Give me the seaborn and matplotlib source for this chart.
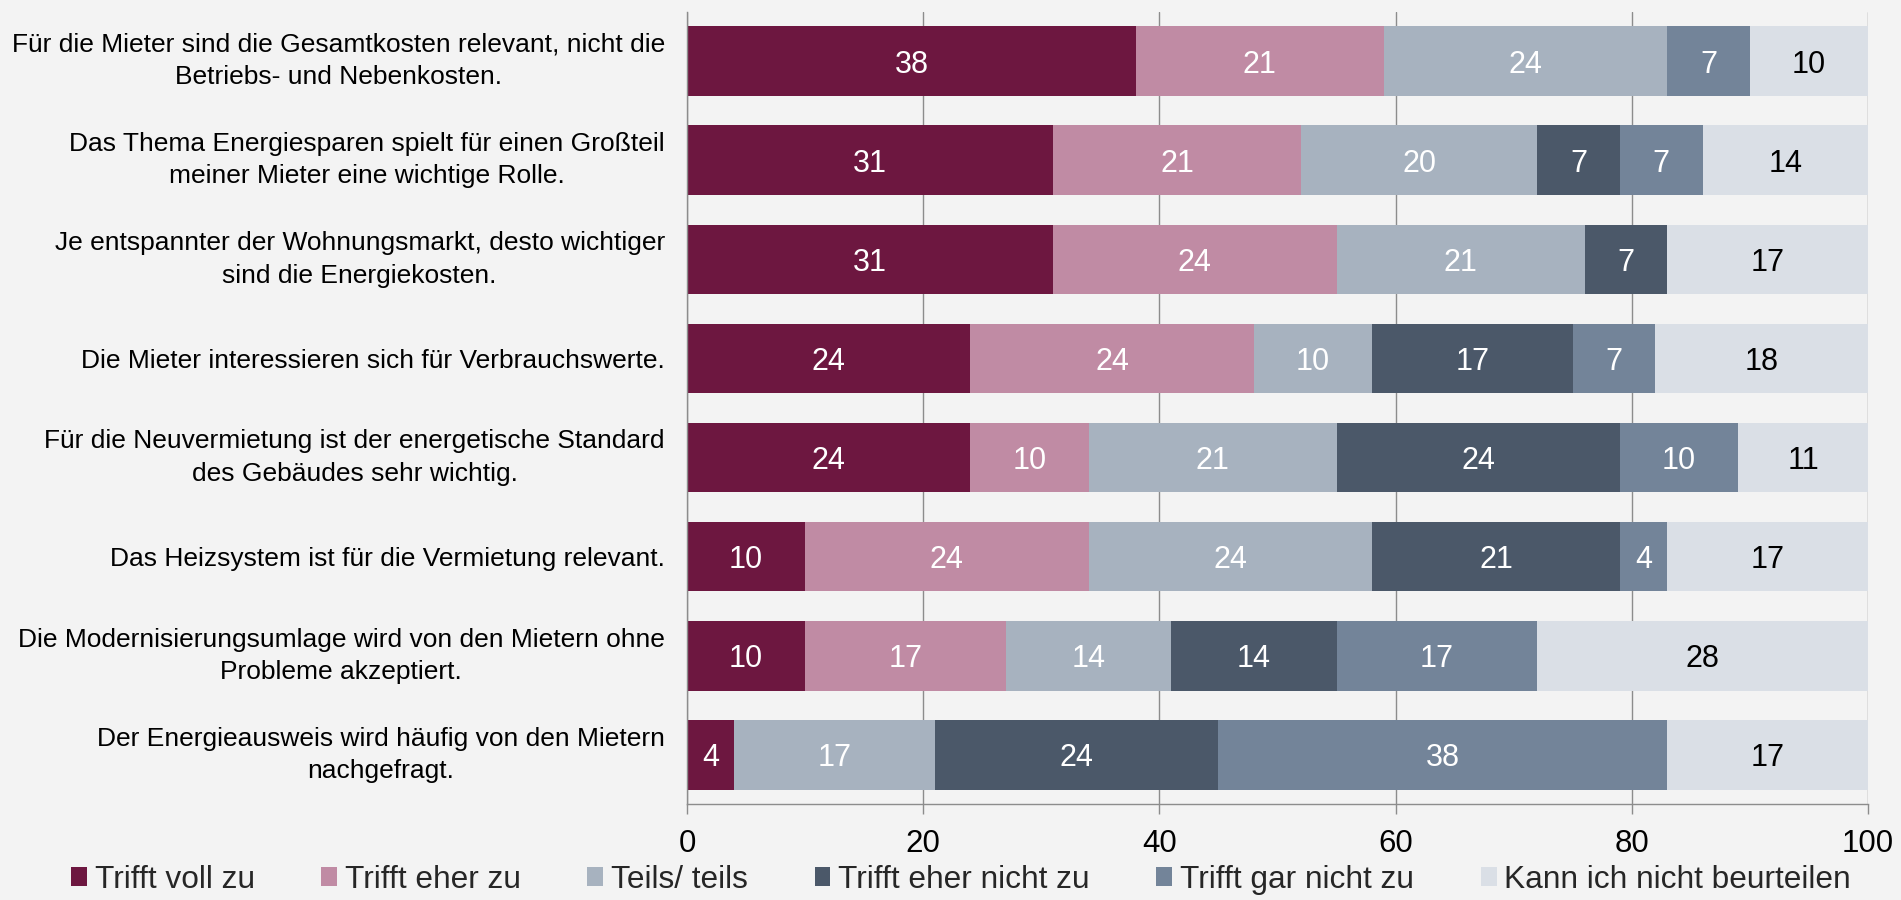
import numpy as np
import matplotlib
matplotlib.use("Agg")
import matplotlib.pyplot as plt
from matplotlib.patches import Patch
import seaborn as sns

statements = [
    "Für die Mieter sind die Gesamtkosten relevant, nicht die\nBetriebs- und Nebenkosten.",
    "Das Thema Energiesparen spielt für einen Großteil\nmeiner Mieter eine wichtige Rolle.",
    "Je entspannter der Wohnungsmarkt, desto wichtiger\nsind die Energiekosten.",
    "Die Mieter interessieren sich für Verbrauchswerte.",
    "Für die Neuvermietung ist der energetische Standard\ndes Gebäudes sehr wichtig.",
    "Das Heizsystem ist für die Vermietung relevant.",
    "Die Modernisierungsumlage wird von den Mietern ohne\nProbleme akzeptiert.",
    "Der Energieausweis wird häufig von den Mietern\nnachgefragt.",
]
categories = ["Trifft voll zu", "Trifft eher zu", "Teils/ teils",
              "Trifft eher nicht zu", "Trifft gar nicht zu", "Kann ich nicht beurteilen"]
trifft_voll = [38, 31, 31, 24, 24, 10, 10, 4]
trifft_eher = [21, 21, 24, 24, 10, 24, 17, 0]
teils_teils = [24, 20, 21, 10, 21, 24, 14, 17]
eher_nicht = [0, 7, 7, 17, 24, 21, 14, 24]
gar_nicht = [7, 7, 0, 7, 10, 4, 17, 38]
kann_nicht = [10, 14, 17, 18, 11, 17, 28, 17]
x_ticks = [0, 20, 40, 60, 80, 100]

colors = ["#6D1740", "#C08BA4", "#A7B2BF", "#4B5869", "#738499", "#DADFE6"]
label_colors = ["white", "white", "white", "white", "white", "black"]
bg = "#F3F3F3"
grid_c = "#8C8C8C"

sns.set_theme(style="white")
plt.rcParams["font.family"] = ["Liberation Sans", "DejaVu Sans"]

W, H = 1901, 900
fig = plt.figure(figsize=(W / 100, H / 100), dpi=100, facecolor=bg)
ax = fig.add_axes([687 / W, 1 - 804 / H, (1868 - 687) / W, (804 - 12) / H])
ax.set_facecolor(bg)

vals = np.array([trifft_voll, trifft_eher, teils_teils, eher_nicht, gar_nicht, kann_nicht])
cum = np.cumsum(vals, axis=0)

for i in range(len(categories) - 1, -1, -1):
    sns.barplot(x=cum[i], y=statements, orient="h", color=colors[i], saturation=1,
                width=0.7, linewidth=0, errorbar=None, ax=ax, zorder=2)

for i in range(len(categories)):
    for j in range(len(statements)):
        v = vals[i, j]
        if v > 0:
            ax.text(cum[i, j] - v / 2, j, str(v), ha="center", va="center_baseline",
                    color=label_colors[i], fontsize=22, zorder=3)

ax.set_xlim(0, 100)
ax.set_ylim(len(statements) - 0.505, -0.495)
ax.set_xticks(x_ticks)
ax.set_xticklabels([str(t) for t in x_ticks])
ax.set_xlabel("")
ax.set_ylabel("")

ax.xaxis.grid(True, color=grid_c, linewidth=1.0)
ax.yaxis.grid(False)
ax.set_axisbelow(True)
for s in ["top", "right"]:
    ax.spines[s].set_visible(False)
for s in ["left", "bottom"]:
    ax.spines[s].set_color(grid_c)
    ax.spines[s].set_linewidth(1.0)

ax.tick_params(axis="x", bottom=True, direction="out", length=7.2, width=1.0,
               color=grid_c, labelsize=22.5, pad=11, labelcolor="black")
ax.tick_params(axis="y", left=False, length=0, labelsize=19, pad=16, labelcolor="black")
for t in ax.get_yticklabels():
    t.set_multialignment("center")
    t.set_linespacing(1.45)
    if "\n" in t.get_text():
        t.set_verticalalignment("center")

handles = [Patch(facecolor=c, edgecolor="none", label=l) for c, l in zip(colors, categories)]
fig.legend(handles=handles, ncol=6, loc="center", bbox_to_anchor=(0.5055, 1 - 880 / H),
           frameon=False, fontsize=22.8, handlelength=0.5, handleheight=0.55,
           handletextpad=0.25, columnspacing=2.1, borderpad=0, borderaxespad=0)

fig.savefig("out.png", dpi=100, facecolor=bg)
